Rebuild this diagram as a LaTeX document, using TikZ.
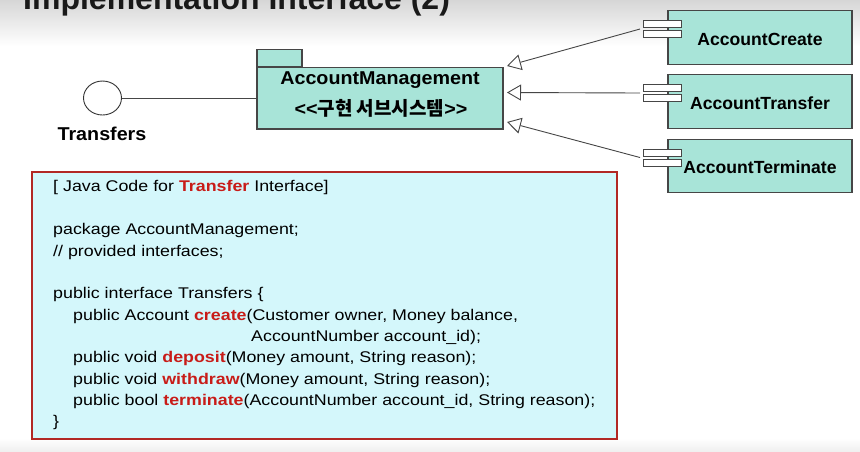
\documentclass[tikz,border=0pt]{standalone}
\usepackage{fontspec}
\setmainfont{Liberation Sans}
\newfontfamily\cjkfont{Noto Sans CJK KR}
\newfontfamily\codefont{Liberation Sans}[FakeStretch=1.15]
\newfontfamily\labfont{Liberation Sans}[FakeStretch=1.06]
\usetikzlibrary{arrows.meta,shapes.geometric}

\definecolor{teal1}{RGB}{168,228,216}
\definecolor{codebg}{RGB}{212,247,251}
\definecolor{codeframe}{RGB}{178,40,36}
\definecolor{kwred}{RGB}{200,28,24}
\definecolor{edge}{RGB}{70,70,70}

\newcommand{\kw}[1]{{\bfseries\color{kwred}#1}}

\tikzset{
  box/.style={draw=edge, line width=1.2pt, fill=teal1, inner sep=0pt},
  port/.style={draw=edge, line width=1pt, fill=white, minimum width=38pt,
    minimum height=7pt, inner sep=0pt},
  complabel/.style={font=\fontsize{17.6}{20}\selectfont\bfseries, inner sep=0pt},
  biglabel/.style={font=\labfont\fontsize{18.6}{22}\selectfont\bfseries, inner sep=0pt},
  code/.style={anchor=base west, inner sep=0pt,
    font=\codefont\fontsize{15.5}{21}\selectfont},
  realize/.style={draw=edge, line width=0.9pt,
    -{Triangle[open, length=14pt, width=16pt, fill=white]}},
  wire/.style={draw=edge, line width=0.9pt},
}

\begin{document}
\begin{tikzpicture}[x=1pt, y=-1pt]
\useasboundingbox (0,0) rectangle (860,451);

% page background
\fill[white] (0,0) rectangle (860,451);
\shade[top color=gray!32, bottom color=white] (0,0) rectangle (860,46);
\shade[top color=white, bottom color=gray!12] (0,438) rectangle (860,451);

% slide title (runs off the top edge)
\node[anchor=base west, inner sep=0pt,
  font=\fontsize{32}{32}\selectfont\bfseries, text=black!90] (title)
  at (23,9.5) {Implementation Interface (2)};

% provided interface (lollipop)
\node[draw=black!80, line width=0.9pt, ellipse, fill=white,
  minimum width=38pt, minimum height=34pt, inner sep=0pt] (iface) at (102.5,98) {};
\node[biglabel] (ifacelabel) at (102,134) {Transfers};

% subsystem package
\node[box, minimum width=246pt, minimum height=61.5pt] (pkg) at (380,98.2) {};
\node[box, anchor=south west, minimum width=45pt, minimum height=17pt]
  (pkgtab) at (pkg.north west) {};
\node[biglabel] (pkgname) at (380,80) {AccountManagement};
\node[biglabel] (pkgstereo) at (381,108)
  {<<{\cjkfont\bfseries\fontsize{19}{22}\selectfont 구현 서브시스템}>>};

\draw[wire] (iface.east) -- (pkg.west |- iface.east);

% implementing components
\foreach \name/\txt/\yc in {cA/AccountCreate/37.5, cB/AccountTransfer/101.5,
                            cC/AccountTerminate/166} {
  \node[box, minimum width=184pt, minimum height=53.5pt] (\name) at (760,\yc) {};
  \node[port] (\name p1) at (662,\yc-13.5) {};
  \node[port] (\name p2) at (662,\yc-3.5) {};
  \node[complabel] (\name l) at (760,\yc+1.5) {\txt};
  \coordinate (\name in) at (640,\yc-8.5);
}

\coordinate (tA) at (507,66);
\coordinate (tB) at (507,92.5);
\coordinate (tC) at (507,122);
\draw[realize] (cAin) -- (tA);
\draw[realize] (cBin) -- (tB);
\draw[realize] (cCin) -- (tC);

% Java code panel
\node[draw=codeframe, line width=1.5pt, fill=codebg, anchor=north west,
  minimum width=585pt, minimum height=267pt, inner sep=0pt] (codebox) at (31,171) {};

\node[code] (l1) at (53,191.5) {[ Java Code for \kw{Transfer} Interface]};
\node[code] (l2) at (53,234.5) {package AccountManagement;};
\node[code] (l3) at (53,256) {// provided interfaces;};
\node[code] (l4) at (53,298.5) {public interface Transfers \{};
\node[code] (l5) at (73,320) {public Account \kw{create}(Customer owner, Money balance,};
\node[code] (l6) at (251,341) {AccountNumber account\_id);};
\node[code] (l7) at (73,362.5) {public void \kw{deposit}(Money amount, String reason);};
\node[code] (l8) at (73,384) {public void \kw{withdraw}(Money amount, String reason);};
\node[code] (l9) at (73,405) {public bool \kw{terminate}(AccountNumber account\_id, String reason);};
\node[code] (l10) at (53,426.5) {\}};
\end{tikzpicture}
\end{document}
